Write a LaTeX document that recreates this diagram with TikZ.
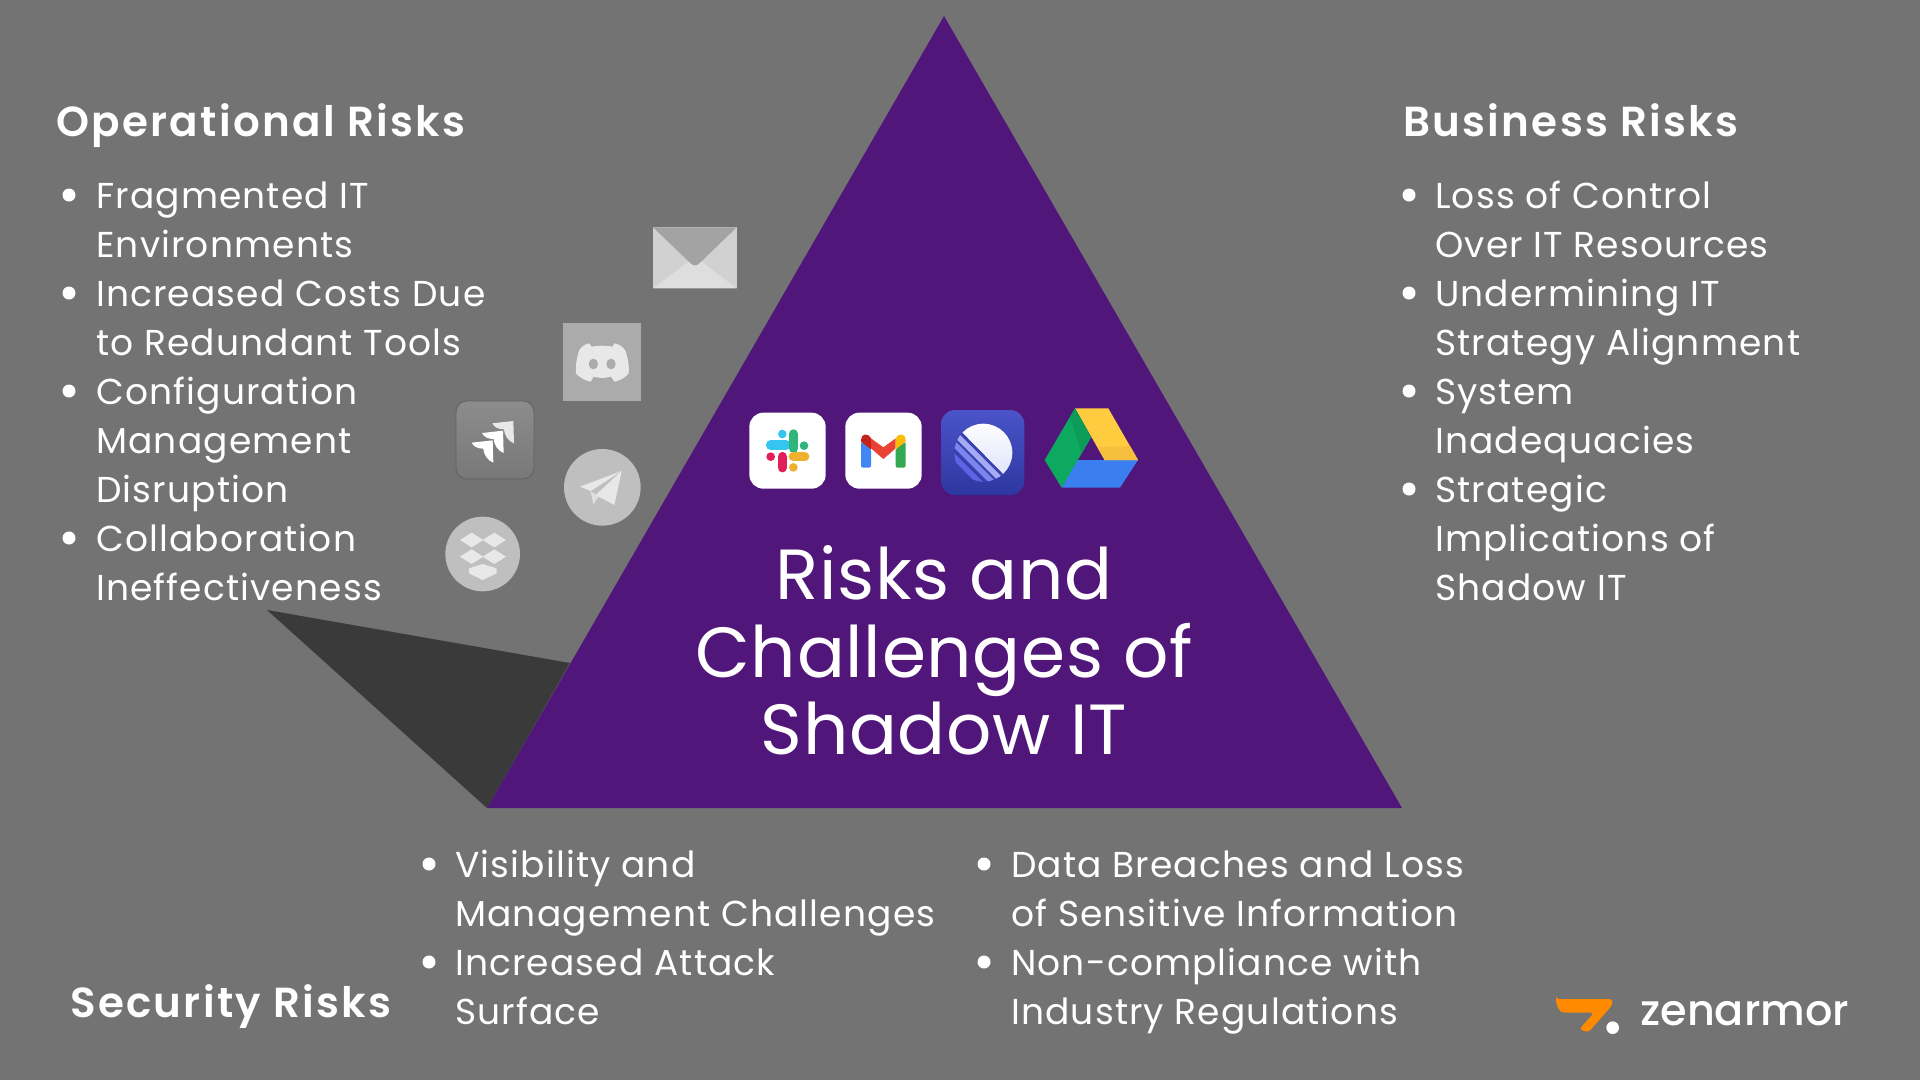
\documentclass[tikz,border=0pt]{standalone}
\usepackage{fontspec}
\usetikzlibrary{calc}
\newfontfamily\bodyfont[LetterSpace=3.2]{Poppins}
\newfontfamily\headfont[UprightFont=* SemiBold,LetterSpace=5.5]{Poppins}
\newfontfamily\titlefont[LetterSpace=1]{Poppins}
\newfontfamily\logofont[UprightFont=* Medium]{Poppins}
\definecolor{bgc}{HTML}{737373}
\definecolor{purp}{HTML}{50167A}
\definecolor{darkw}{HTML}{3A3A3A}
\definecolor{icl}{HTML}{E8E8E8}
\definecolor{orng}{HTML}{FF8A00}
\definecolor{slackblue}{RGB}{54,197,240}
\definecolor{slackgreen}{RGB}{46,182,125}
\definecolor{slackyellow}{RGB}{236,178,46}
\definecolor{slackred}{RGB}{224,30,90}
\definecolor{gblue}{RGB}{66,133,244}
\definecolor{ggreen}{RGB}{52,168,83}
\definecolor{gred}{RGB}{234,67,53}
\definecolor{gdred}{RGB}{197,34,31}
\definecolor{gyellow}{RGB}{251,188,4}
\definecolor{lintop}{RGB}{74,84,200}
\definecolor{linbot}{RGB}{46,54,160}
\definecolor{linone}{RGB}{165,170,245}
\definecolor{lintwo}{RGB}{125,132,238}
\definecolor{linthree}{RGB}{92,100,228}
\definecolor{lingap}{RGB}{56,64,176}
\definecolor{linpale}{RGB}{214,220,250}
\definecolor{dblue}{RGB}{58,126,240}
\definecolor{dyellow}{RGB}{255,203,63}
\definecolor{dgreen}{RGB}{13,169,96}
\definecolor{ddgreen}{RGB}{12,155,88}
\definecolor{ddyellow}{RGB}{245,190,60}
\tikzset{
  bodyline/.style={anchor=base west,inner sep=0pt,yshift=0.3pt,text=white,font=\bodyfont\fontsize{36}{44}\selectfont},
  headline/.style={anchor=base west,inner sep=0pt,text=white,font=\headfont\fontsize{42}{48}\selectfont},
  titleline/.style={anchor=base,inner sep=0pt,yshift=2pt,text=white,font=\titlefont\fontsize{71}{77}\selectfont},
  bulletdot/.style={circle,fill=white,inner sep=0pt,minimum size=13pt},
  pill/.style={line width=9.5pt,line cap=round},
}
\begin{document}
\begin{tikzpicture}[x=1pt,y=-1pt]
\useasboundingbox (0,0) rectangle (1920,1080);
\fill[bgc] (0,0) rectangle (1920,1080);
% shadow and pyramid
\coordinate (apex) at (944,16);
\coordinate (baseL) at (487,808);
\coordinate (baseR) at (1402,808);
\fill[darkw] (267,610) -- (570,663) -- (baseL) -- cycle;
\fill[purp] (apex) -- (baseR) -- (baseL) -- cycle;
% title
\node[titleline] (t1) at (944,601) {Risks and};
\node[titleline] (t2) at (944,679) {Challenges of};
\node[titleline] (t3) at (944,756) {Shadow IT};
% Operational
\node[headline] (oh) at (56,136) {Operational Risks};
\foreach \n/\y in {o1/195,o2/293,o3/391,o4/538}{\node[bulletdot] (\n) at (69,\y) {};}
\node[bodyline] (o1a) at (96,209) {Fragmented IT};
\node[bodyline] (o1b) at (96,258) {Environments};
\node[bodyline] (o2a) at (96,307) {Increased Costs Due};
\node[bodyline] (o2b) at (96,356) {to Redundant Tools};
\node[bodyline] (o3a) at (96,405) {Configuration};
\node[bodyline] (o3b) at (96,454) {Management};
\node[bodyline] (o3c) at (96,503) {Disruption};
\node[bodyline] (o4a) at (96,552) {Collaboration};
\node[bodyline] (o4b) at (96,601) {Ineffectiveness};
% Business
\node[headline] (bh) at (1403,136) {Business Risks};
\foreach \n/\y in {b1/195,b2/293,b3/391,b4/489}{\node[bulletdot] (\n) at (1409,\y) {};}
\node[bodyline] (b1a) at (1435,209) {Loss of Control};
\node[bodyline] (b1b) at (1435,258) {Over IT Resources};
\node[bodyline] (b2a) at (1435,307) {Undermining IT};
\node[bodyline] (b2b) at (1435,356) {Strategy Alignment};
\node[bodyline] (b3a) at (1435,405) {System};
\node[bodyline] (b3b) at (1435,454) {Inadequacies};
\node[bodyline] (b4a) at (1435,503) {Strategic};
\node[bodyline] (b4b) at (1435,552) {Implications of};
\node[bodyline] (b4c) at (1435,601) {Shadow IT};
% Security
\node[headline] (sh) at (70,1017) {Security Risks};
\foreach \n/\x/\y in {s1/429/864,s2/429/962,s3/984/864,s4/984/962}{\node[bulletdot] (\n) at (\x,\y) {};}
\node[bodyline] (s1a) at (455,878) {Visibility and};
\node[bodyline] (s1b) at (455,927) {Management Challenges};
\node[bodyline] (s2a) at (455,976) {Increased Attack};
\node[bodyline] (s2b) at (455,1025) {Surface};
\node[bodyline] (s3a) at (1011,878) {Data Breaches and Loss};
\node[bodyline] (s3b) at (1011,927) {of Sensitive Information};
\node[bodyline] (s4a) at (1011,976) {Non-compliance with};
\node[bodyline] (s4b) at (1011,1025) {Industry Regulations};
% ---- grey icons, coordinates in zoom units
\begin{scope}[shift={(430,210)},x=0.33333pt,y=-0.33333pt]
  % envelope
  \fill[black!18] (669,52) rectangle (920,235);
  \fill[black!13] (669,235) -- (795,140) -- (920,235) -- cycle;
  \fill[black!36] (669,52) -- (920,52) -- (808,160) .. controls (800,168) and (790,168) .. (782,160) -- cycle;
  % discord
  \fill[black!33] (400,339) rectangle (633,572);
  \fill[icl] (478,400) .. controls (462,403) and (452,412) .. (447,422)
     .. controls (440,445) and (436,465) .. (438,490)
     .. controls (450,505) and (468,512) .. (482,515) -- (491,500)
     .. controls (510,505) and (525,505) .. (543,500) -- (553,515)
     .. controls (567,512) and (585,505) .. (596,490)
     .. controls (598,465) and (594,445) .. (586,422)
     .. controls (580,412) and (570,403) .. (553,400) -- (548,410)
     .. controls (530,406) and (505,406) .. (485,410) -- cycle;
  \fill[black!33] (490,462) ellipse [x radius=14,y radius=16];
  \fill[black!33] (543,462) ellipse [x radius=14,y radius=16];
  % telegram
  \fill[black!25] (517,832) circle [radius=115];
  \fill[black!13] (482,843) -- (490,883) -- (506,860) -- cycle;
  \fill[icl] (575,783) -- (450,830) -- (482,843) -- cycle;
  \fill[icl] (575,783) -- (553,885) -- (497,855) -- cycle;
  % dropbox
  \fill[black!25] (158,1032) circle [radius=112];
  \foreach \cx/\cy in {125/990,193/990,125/1040,193/1040}{
    \fill[icl] (\cx-35,\cy) -- (\cx,\cy-22) -- (\cx+35,\cy) -- (\cx,\cy+22) -- cycle;}
  \fill[icl] (117,1075) -- (158,1062) -- (200,1075) -- (200,1090) -- (158,1110) -- (117,1090) -- cycle;
\end{scope}
% jira
\begin{scope}[shift={(450,395)},x=0.33333pt,y=-0.33333pt]
  \shade[top color=black!45,bottom color=black!53,rounded corners=11pt,draw=black!62,line width=0.8pt] (18,18) rectangle (252,252);
  \foreach \dx/\dy in {-62/58,-31/29}{
    \begin{scope}[shift={(\dx,\dy)}]
      \shade[left color=white,middle color=black!30,right color=white]
      (127,85) -- (190,78) -- (192,145) .. controls (175,138) and (165,125) .. (162,103)
      .. controls (145,103) and (133,97) .. cycle;
    \end{scope}}
  \fill[icl] (127,85) -- (190,78) -- (192,145) .. controls (175,138) and (165,125) .. (162,103)
      .. controls (145,103) and (133,97) .. cycle;
\end{scope}
% ---- colour icons
\begin{scope}[shift={(730,390)},x=0.33333pt,y=-0.33333pt]
  % slack
  \fill[white,rounded corners=14pt] (58,68) rectangle (287,296);
  \draw[pill,slackblue] (122,165) -- (168,165);
  \fill[slackblue] (157,132) circle [radius=13];
  \draw[pill,slackgreen] (190,132) -- (190,175);
  \fill[slackgreen] (222,167) circle [radius=13];
  \draw[pill,slackyellow] (190,200) -- (224,200);
  \fill[slackyellow] (190,232) circle [radius=13];
  \draw[pill,slackred] (157,200) -- (157,233);
  \fill[slackred] (122,200) circle [radius=13];
  % gmail
  \fill[white,rounded corners=14pt] (346,68) rectangle (575,296);
  \fill[gblue,rounded corners=2pt] (393,155) -- (423,175) -- (423,233) -- (393,233) -- cycle;
  \fill[ggreen,rounded corners=2pt] (527,155) -- (497,175) -- (497,233) -- (527,233) -- cycle;
  \fill[gred] (423,145) -- (460,172) -- (497,145) -- (497,175) -- (460,207) -- (423,175) -- cycle;
  \fill[gdred] (393,150) .. controls (393,132) and (412,126) .. (423,145) -- (423,178) -- (393,155) -- cycle;
  \fill[gyellow] (527,150) .. controls (527,132) and (508,126) .. (497,145) -- (497,178) -- (527,155) -- cycle;
  % drive
  \fill[dblue] (1040,210) -- (1224,210) -- (1170,293) -- (995,293) -- cycle;
  \fill[dyellow] (1035,55) -- (1135,55) -- (1224,210) -- (1124,210) -- cycle;
  \fill[ddyellow] (1102,172) -- (1200,168) -- (1224,210) -- (1124,210) -- cycle;
  \fill[dgreen] (1035,55) -- (1083,142) -- (995,293) -- (944,210) -- cycle;
  \fill[ddgreen] (1035,55) -- (1083,142) -- (1055,190) -- (1020,80) -- cycle;
\end{scope}
% linear (zoom units of a crop at 935,405)
\begin{scope}[shift={(935,405)},x=0.33333pt,y=-0.33333pt]
  \shade[top color=lintop,bottom color=linbot,rounded corners=14pt] (18,15) rectangle (268,270);
  \begin{scope}
    \clip (145,143) circle [radius=87];
    \fill[lingap] (40,40) rectangle (250,250);
    \shade[top color=white,bottom color=linpale] (50,50) -- (250,50) -- (250,253) -- cycle;
    \draw[line width=5.5pt,linone] (0,26) -- (300,326);
    \draw[line width=5.5pt,lintwo] (0,59) -- (300,359);
    \draw[line width=5.5pt,linthree] (0,98) -- (300,398);
  \end{scope}
\end{scope}
% ---- logo
\begin{scope}[shift={(1530,970)},x=0.33333pt,y=-0.33333pt]
  \fill[orng,rounded corners=3pt] (78,87) -- (247,87) -- (247,105) -- (175,187) -- (148,178) -- (192,128) -- (105,128) .. controls (90,125) and (80,110) .. cycle;
  \fill[white] (248,173) circle [radius=19];
\end{scope}
\node[anchor=base west,inner sep=0pt,text=white,font=\logofont\fontsize{43}{44}\selectfont] (zen) at (1640,1025) {zenarmor};
\end{tikzpicture}
\end{document}
